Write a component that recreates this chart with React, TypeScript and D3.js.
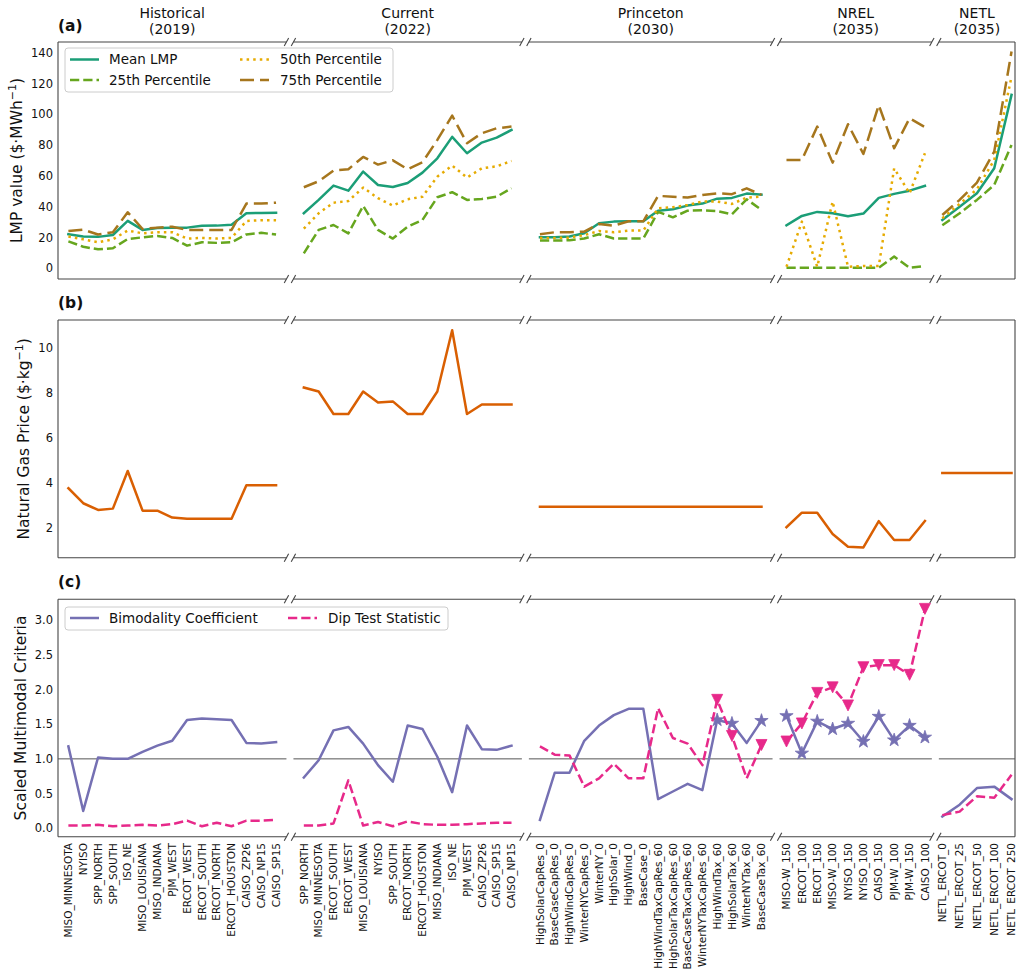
import React from 'react'
import * as d3 from 'd3'

const width = 1016
const height = 973

// segment headers
const segmentNames = ['Historical', 'Current', 'Princeton', 'NREL', 'NETL']
const segmentYears = ['(2019)', '(2022)', '(2030)', '(2035)', '(2035)']

// x categories per segment
const historicalSites = ['MISO_MINNESOTA', 'NYISO', 'SPP_NORTH', 'SPP_SOUTH', 'ISO_NE', 'MISO_LOUISIANA', 'MISO_INDIANA', 'PJM_WEST', 'ERCOT_WEST', 'ERCOT_SOUTH', 'ERCOT_NORTH', 'ERCOT_HOUSTON', 'CAISO_ZP26', 'CAISO_NP15', 'CAISO_SP15']
const currentSites = ['SPP_NORTH', 'MISO_MINNESOTA', 'ERCOT_SOUTH', 'ERCOT_WEST', 'MISO_LOUISIANA', 'NYISO', 'SPP_SOUTH', 'ERCOT_NORTH', 'ERCOT_HOUSTON', 'MISO_INDIANA', 'ISO_NE', 'PJM_WEST', 'CAISO_ZP26', 'CAISO_SP15', 'CAISO_NP15']
const princetonCases = ['HighSolarCapRes_0', 'BaseCaseCapRes_0', 'HighWindCapRes_0', 'WinterNYCapRes_0', 'WinterNY_0', 'HighSolar_0', 'HighWind_0', 'BaseCase_0', 'HighWindTaxCapRes_60', 'HighSolarTaxCapRes_60', 'BaseCaseTaxCapRes_60', 'WinterNYTaxCapRes_60', 'HighWindTax_60', 'HighSolarTax_60', 'WinterNYTax_60', 'BaseCaseTax_60']
const nrelCases = ['MISO-W_150', 'ERCOT_100', 'ERCOT_150', 'MISO-W_100', 'NYISO_150', 'NYISO_100', 'CAISO_150', 'PJM-W_100', 'PJM-W_150', 'CAISO_100']
const netlCases = ['NETL_ERCOT_0', 'NETL_ERCOT_25', 'NETL_ERCOT_50', 'NETL_ERCOT_100', 'NETL_ERCOT_250']
const segmentLabels = [historicalSites, currentSites, princetonCases, nrelCases, netlCases]

// (a) LMP values, one list per segment
const meanLMP = [
  [22.1, 20.6, 20.4, 21.6, 30.8, 24.9, 26.2, 26.4, 26.4, 27.6, 27.7, 28.3, 35.8, 35.9, 36.0],
  [35.7, 44.4, 53.7, 50.4, 62.8, 54.1, 52.8, 55.4, 62.1, 71.4, 85.3, 74.7, 81.6, 84.8, 89.8],
  [20.1, 20.1, 20.6, 22.7, 29.2, 30.3, 30.5, 30.5, 37.4, 38.3, 40.7, 42.0, 45.2, 45.7, 48.5, 47.8],
  [27.9, 34.0, 36.6, 35.7, 33.8, 35.5, 45.7, 48.3, 50.4, 53.5],
  [31.4, 40.0, 48.7, 64.9, 112.6],
]
const p25LMP = [
  [17.5, 14.0, 12.3, 13.0, 19.0, 20.1, 21.0, 19.7, 14.7, 16.9, 16.5, 16.9, 22.0, 23.0, 21.9],
  [9.7, 24.9, 28.1, 22.7, 40.5, 24.9, 19.3, 27.0, 31.4, 46.1, 49.4, 44.4, 45.0, 46.5, 51.9],
  [18.0, 18.0, 18.2, 19.3, 22.1, 19.3, 19.3, 19.3, 36.6, 33.1, 37.4, 37.7, 37.2, 35.1, 44.8, 37.9],
  [0.4, 0.4, 0.4, 0.4, 0.4, 0.4, 0.4, 7.6, 0.4, 1.5],
  [27.9, 35.7, 44.4, 54.1, 80.1],
]
const p50LMP = [
  [20.6, 18.8, 16.9, 18.8, 24.5, 22.7, 23.4, 23.4, 19.3, 19.7, 19.3, 19.7, 30.7, 31.2, 31.2],
  [25.8, 35.7, 42.6, 43.7, 52.4, 45.5, 40.7, 44.8, 46.5, 59.5, 66.7, 58.9, 64.9, 66.2, 69.7],
  [19.7, 19.7, 19.9, 21.6, 24.2, 23.4, 24.5, 24.5, 39.0, 39.6, 41.1, 43.3, 43.3, 41.8, 45.9, 46.5],
  [1.0, 30.3, 1.0, 43.3, 1.0, 1.5, 1.5, 64.9, 48.7, 74.7],
  [32.5, 41.8, 51.3, 70.3, 124.5],
]
const p75LMP = [
  [24.2, 25.1, 21.9, 23.4, 36.4, 25.5, 26.4, 27.0, 24.9, 24.9, 24.9, 24.9, 42.0, 42.0, 42.6],
  [52.6, 56.5, 63.4, 64.3, 72.3, 67.3, 70.1, 64.3, 68.8, 83.3, 99.1, 81.2, 87.7, 90.9, 92.0],
  [22.1, 23.4, 23.4, 23.8, 28.8, 27.7, 30.5, 30.5, 47.0, 46.5, 45.9, 47.6, 48.7, 48.1, 51.9, 47.6],
  [70.3, 70.3, 92.0, 68.6, 93.5, 74.2, 106.0, 77.9, 97.4, 91.6],
  [34.6, 44.4, 55.6, 75.8, 140.7],
]

// (b) natural gas price
const gasPrice = [
  [3.76, 3.09, 2.79, 2.85, 4.53, 2.76, 2.76, 2.45, 2.4, 2.4, 2.4, 2.4, 3.89, 3.89, 3.89],
  [8.25, 8.07, 7.07, 7.07, 8.07, 7.58, 7.63, 7.07, 7.07, 8.07, 10.8, 7.07, 7.49, 7.49, 7.49],
  [2.93, 2.93, 2.93, 2.93, 2.93, 2.93, 2.93, 2.93, 2.93, 2.93, 2.93, 2.93, 2.93, 2.93, 2.93, 2.93],
  [2.02, 2.67, 2.67, 1.72, 1.15, 1.12, 2.29, 1.45, 1.45, 2.3],
  [4.44, 4.44, 4.44, 4.44, 4.44],
]

// (c) scaled multimodal criteria
const bimodality = [
  [1.18, 0.25, 1.02, 1.0, 1.0, 1.1, 1.19, 1.26, 1.56, 1.58, 1.57, 1.56, 1.23, 1.22, 1.24],
  [0.73, 0.98, 1.41, 1.46, 1.22, 0.91, 0.67, 1.48, 1.43, 1.03, 0.52, 1.48, 1.14, 1.13, 1.19],
  [0.12, 0.8, 0.8, 1.26, 1.48, 1.63, 1.72, 1.72, 0.42, 0.53, 0.64, 0.55, 1.56, 1.51, 1.23, 1.55],
  [1.62, 1.08, 1.54, 1.43, 1.51, 1.25, 1.61, 1.27, 1.48, 1.31],
  [0.17, 0.34, 0.58, 0.6, 0.42],
]
const dipTest = [
  [0.04, 0.04, 0.05, 0.03, 0.04, 0.05, 0.04, 0.06, 0.11, 0.03, 0.08, 0.03, 0.11, 0.11, 0.12],
  [0.04, 0.04, 0.07, 0.69, 0.04, 0.09, 0.03, 0.1, 0.06, 0.05, 0.05, 0.06, 0.07, 0.08, 0.08],
  [1.18, 1.06, 1.05, 0.6, 0.72, 0.93, 0.72, 0.72, 1.73, 1.3, 1.22, 0.91, 1.85, 1.33, 0.72, 1.2],
  [1.25, 1.51, 1.95, 2.03, 1.77, 2.32, 2.35, 2.35, 2.21, 3.16],
  [0.19, 0.24, 0.46, 0.44, 0.77],
]

const lmpTicks = [0, 20, 40, 60, 80, 100, 120, 140]
const gasTicks = [2, 4, 6, 8, 10]
const criteriaTicks = [0, 0.5, 1, 1.5, 2, 2.5, 3]

const font = 'DejaVu Sans'
const spineColor = '#444'

const lmpSeries = [
  { name: 'Mean LMP', values: meanLMP, color: '#1b9e77', dash: '' },
  { name: '25th Percentile', values: p25LMP, color: '#66a61e', dash: '9.25 4' },
  { name: '50th Percentile', values: p50LMP, color: '#e6ab02', dash: '2.5 4.1' },
  { name: '75th Percentile', values: p75LMP, color: '#a6761d', dash: '14 6' },
]
const critSeries = [
  { name: 'Bimodality Coefficient', values: bimodality, color: '#7570b3', dash: '' },
  { name: 'Dip Test Statistic', values: dipTest, color: '#e7298a', dash: '9.25 4' },
]

function starPath(R: number) {
  const r = R * 0.382
  const pts: [number, number][] = []
  for (let i = 0; i < 10; i++) {
    const a = -Math.PI / 2 + (i * Math.PI) / 5
    const rr = i % 2 === 0 ? R : r
    pts.push([rr * Math.cos(a), rr * Math.sin(a)])
  }
  return 'M' + pts.map(p => p.join(',')).join('L') + 'Z'
}
const triSize = 11
const triPath = `M${-triSize / 2},${-triSize / 2}L${triSize / 2},${-triSize / 2}L0,${triSize / 2}Z`

export default function App() {
  const left = 58
  const right = 1015
  const gap = 7
  const counts = segmentLabels.map(d => d.length)
  const unit = (right - left - gap * (counts.length - 1)) / d3.sum(counts)
  let cursor = left
  const segments = segmentLabels.map((labels, i) => {
    const x0 = cursor
    const x1 = cursor + counts[i] * unit
    cursor = x1 + gap
    const x = d3.scalePoint<string>().domain(labels).range([x0, x1]).padding(0.05 * (labels.length - 1))
    return { labels, x0, x1, x }
  })

  const panels = [
    { top: 42, bottom: 279, domain: [-6.95, 146.9], ticks: lmpTicks, fmt: d3.format('d'), tag: '(a)', tagY: 30.5 },
    { top: 320, bottom: 557.7, domain: [0.662, 11.26], ticks: gasTicks, fmt: d3.format('d'), tag: '(b)', tagY: 308 },
    { top: 599.3, bottom: 836.7, domain: [-0.121, 3.298], ticks: criteriaTicks, fmt: d3.format('.1f'), tag: '(c)', tagY: 587 },
  ].map(p => ({ ...p, y: d3.scaleLinear().domain(p.domain).range([p.bottom, p.top]) }))

  const lineFor = (s: typeof segments[0], y: d3.ScaleLinear<number, number>) =>
    d3.line<number>().x((_, i) => s.x(s.labels[i])!).y(d => y(d))

  const slash = (x: number, y: number, key: string) => (
    <line key={key} x1={x - 2.2} y1={y + 4} x2={x + 2.2} y2={y - 4} stroke={spineColor} strokeWidth={1.1} />
  )

  const [pa, pb, pc] = panels

  return (
    <svg width={width} height={height} style={{ position: 'absolute', left: 0, top: 0, background: '#fff' }} fontFamily={font}>
      {/* segment titles */}
      {segments.map((s, i) => (
        <g key={'t' + i} fontSize={14} textAnchor="middle" fill="#111">
          <text x={(s.x0 + s.x1) / 2} y={18}>{segmentNames[i]}</text>
          <text x={(s.x0 + s.x1) / 2} y={33.5}>{segmentYears[i]}</text>
        </g>
      ))}

      {panels.map((p, pi) => (
        <g key={'p' + pi}>
          <text x={58} y={p.tagY} fontSize={15.5} fontWeight="bold" fill="#111">{p.tag}</text>
          {/* spines */}
          {segments.map((s, i) => (
            <g key={'sp' + i}>
              <line x1={s.x0} x2={s.x1} y1={p.top} y2={p.top} stroke={spineColor} strokeWidth={1.1} />
              <line x1={s.x0} x2={s.x1} y1={p.bottom} y2={p.bottom} stroke={spineColor} strokeWidth={1.1} />
              {i > 0 && slash(s.x0, p.top, 'a')}
              {i > 0 && slash(s.x0, p.bottom, 'b')}
              {i < segments.length - 1 && slash(s.x1, p.top, 'c')}
              {i < segments.length - 1 && slash(s.x1, p.bottom, 'd')}
            </g>
          ))}
          <line x1={segments[0].x0} x2={segments[0].x0} y1={p.top} y2={p.bottom} stroke={spineColor} strokeWidth={1.1} />
          <line x1={segments[4].x1} x2={segments[4].x1} y1={p.top} y2={p.bottom} stroke={spineColor} strokeWidth={1.1} />
          {/* y ticks */}
          {p.ticks.map(t => (
            <text key={t} x={53} y={p.y(t)} dy="0.36em" fontSize={11.5} textAnchor="end" fill="#111">{p.fmt(t)}</text>
          ))}
        </g>
      ))}

      {/* y axis labels */}
      <text transform={`translate(16.5,${(pa.top + pa.bottom) / 2}) rotate(-90)`} dy="0.35em" fontSize={15.5} textAnchor="middle" fill="#111">
        LMP value ($·MWh<tspan dy={-6} fontSize={11}>−1</tspan><tspan dy={6}>)</tspan>
      </text>
      <text transform={`translate(24,${(pb.top + pb.bottom) / 2}) rotate(-90)`} dy="0.35em" fontSize={15.5} textAnchor="middle" fill="#111">
        Natural Gas Price ($·kg<tspan dy={-6} fontSize={11}>−1</tspan><tspan dy={6}>)</tspan>
      </text>
      <text transform={`translate(21,${(pc.top + pc.bottom) / 2}) rotate(-90)`} dy="0.35em" fontSize={15.5} textAnchor="middle" fill="#111">
        Scaled Multimodal Criteria
      </text>

      {/* (c) reference line at 1 */}
      {segments.map((s, i) => (
        <line key={'h' + i} x1={s.x0} x2={s.x1} y1={pc.y(1)} y2={pc.y(1)} stroke="#555" strokeWidth={1} />
      ))}

      {/* (a) LMP lines */}
      {segments.map((s, i) => (
        <g key={'a' + i}>
          {lmpSeries.map(ser => (
            <path key={ser.name} d={lineFor(s, pa.y)(ser.values[i]) || ''} fill="none" stroke={ser.color}
              strokeWidth={2.5} strokeDasharray={ser.dash || undefined} strokeLinejoin="round"
              strokeLinecap={ser.dash ? 'butt' : 'square'} />
          ))}
        </g>
      ))}

      {/* (b) gas price */}
      {segments.map((s, i) => (
        <path key={'b' + i} d={lineFor(s, pb.y)(gasPrice[i]) || ''} fill="none" stroke="#d95f02"
          strokeWidth={2.5} strokeLinejoin="round" strokeLinecap="square" />
      ))}

      {/* (c) criteria lines with markers where both criteria exceed 1 */}
      {segments.map((s, i) => (
        <g key={'c' + i}>
          {critSeries.map((ser, si) => (
            <g key={ser.name}>
              <path d={lineFor(s, pc.y)(ser.values[i]) || ''} fill="none" stroke={ser.color}
                strokeWidth={2.5} strokeDasharray={ser.dash || undefined} strokeLinejoin="round"
                strokeLinecap={ser.dash ? 'butt' : 'square'} />
              {ser.values[i].map((v, j) =>
                bimodality[i][j] > 1 && dipTest[i][j] > 1 ? (
                  <path key={j} transform={`translate(${s.x(s.labels[j])},${pc.y(v)})`}
                    d={si === 0 ? starPath(7) : triPath} fill={ser.color} stroke={ser.color} strokeWidth={0.8} />
                ) : null
              )}
            </g>
          ))}
        </g>
      ))}

      {/* x tick labels */}
      {segments.map((s, i) => (
        <g key={'x' + i} fontSize={10.5} fill="#111">
          {s.labels.map(l => (
            <text key={l} transform={`translate(${s.x(l)},843) rotate(-90)`} dy="0.35em" textAnchor="end">{l}</text>
          ))}
        </g>
      ))}

      {/* legend (a) */}
      <g>
        <rect x={65} y={48} width={328} height={44} rx={3} fill="#fff" fillOpacity={0.8} stroke="#ccc" />
        {lmpSeries.map((ser, k) => {
          const col = Math.floor(k / 2)
          const row = k % 2
          const hx = col === 0 ? 70 : 240
          const tx = col === 0 ? 109 : 280
          const ly = 59.5 + row * 20.5
          return (
            <g key={ser.name}>
              <line x1={hx} x2={hx + 29} y1={ly} y2={ly} stroke={ser.color} strokeWidth={2.5}
                strokeDasharray={ser.dash || undefined} />
              <text x={tx} y={ly} dy="0.36em" fontSize={13.5} fill="#111">{ser.name}</text>
            </g>
          )
        })}
      </g>

      {/* legend (c) */}
      <g>
        <rect x={65} y={607} width={383} height={23} rx={3} fill="#fff" fillOpacity={0.8} stroke="#ccc" />
        {critSeries.map((ser, k) => {
          const hx = k === 0 ? 70 : 288
          const tx = k === 0 ? 109 : 328
          const ly = 618
          return (
            <g key={ser.name}>
              <line x1={hx} x2={hx + 29} y1={ly} y2={ly} stroke={ser.color} strokeWidth={2.5}
                strokeDasharray={ser.dash || undefined} />
              <text x={tx} y={ly} dy="0.36em" fontSize={13.5} fill="#111">{ser.name}</text>
            </g>
          )
        })}
      </g>
    </svg>
  )
}
